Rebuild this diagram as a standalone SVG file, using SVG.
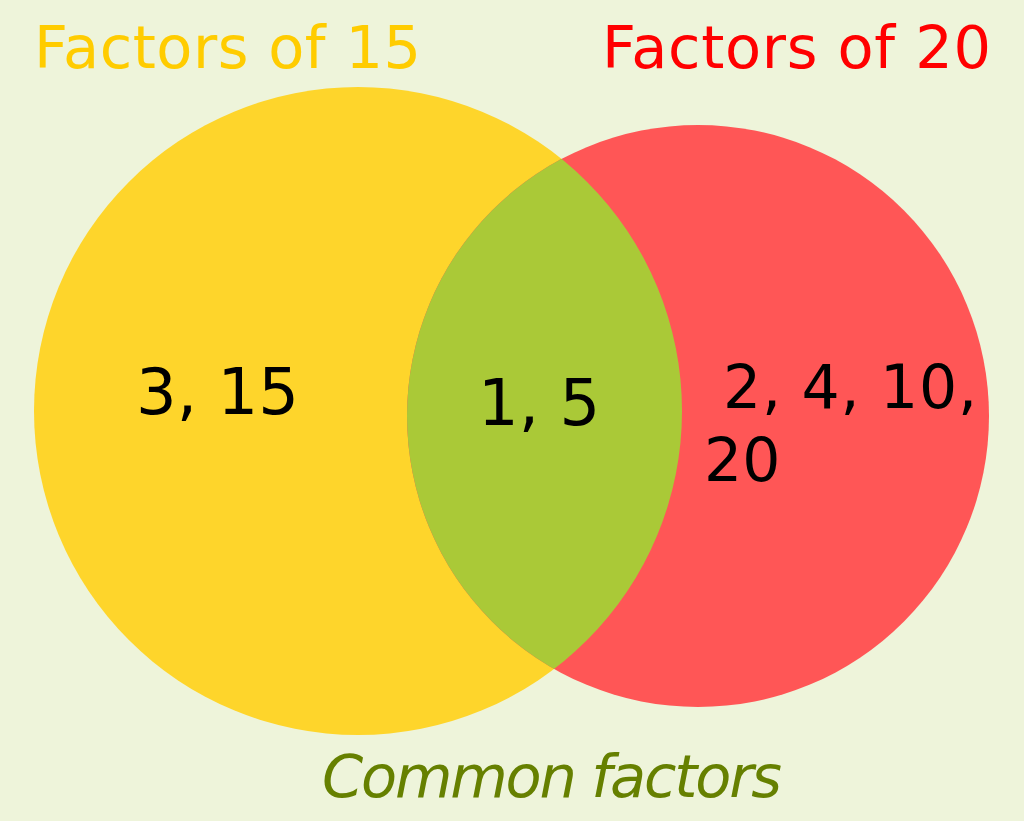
<svg xmlns="http://www.w3.org/2000/svg" width="1024" height="821" viewBox="0 0 1024 821">
<style>
.t{font-family:"DejaVu Sans","Liberation Sans",sans-serif;font-size:59px}
.n{fill:#000;font-size:64px}
.r{fill:#000;font-size:60px}
</style>
<defs>
<clipPath id="clipY"><circle cx="358" cy="411" r="324"/></clipPath>
</defs>
<rect width="1024" height="821" fill="#EEF4DA"/>
<g id="set15"><circle cx="358" cy="411" r="324" fill="#FED52B"/></g>
<g id="set20"><circle cx="698" cy="416" r="291" fill="#FF5656"/></g>
<g id="common"><circle cx="698" cy="416" r="291" fill="#AAC937" clip-path="url(#clipY)"/></g>
<g id="labels">
<text class="t" x="34" y="68" fill="#FFCC00" textLength="387" lengthAdjust="spacing">Factors of 15</text>
<text class="t" x="602" y="68" fill="#FF0000" textLength="389" lengthAdjust="spacing">Factors of 20</text>
<text class="t" x="322" y="797" fill="#668000" font-style="italic" textLength="460">Common factors</text>
<text class="t n" x="136" y="414">3, 15</text>
<text class="t n" x="478" y="425">1, 5</text>
<text class="t r" x="723" y="408" textLength="254" lengthAdjust="spacing">2, 4, 10,</text>
<text class="t r" x="704" y="481">20</text>
</g>
<g id="connectors"/>
</svg>
